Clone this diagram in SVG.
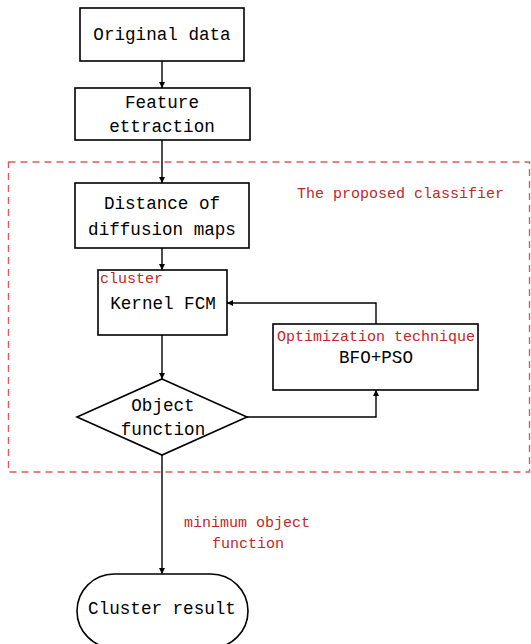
<svg xmlns="http://www.w3.org/2000/svg" width="531" height="644" viewBox="0 0 531 644">
<style>
.box{fill:#fff;stroke:#000;stroke-width:1.6}
.t{font-family:"Liberation Mono",monospace;font-size:17.6px;fill:#000;text-anchor:middle}
.r{font-family:"Liberation Mono",monospace;font-size:15px;fill:#c0282a}
.c{fill:none;stroke:#000;stroke-width:1.4}
</style>
<defs>
<marker id="ah" markerWidth="8" markerHeight="8" refX="6" refY="3" orient="auto" markerUnits="userSpaceOnUse">
<path d="M0,0 L6,3 L0,6 Z" fill="#000"/>
</marker>
</defs>
<rect x="0" y="0" width="531" height="644" fill="#fff"/>
<rect id="classifier" x="8.5" y="162" width="521" height="310" fill="none" stroke="#e05a5e" stroke-width="1.4" stroke-dasharray="7,5"/>
<text class="r" x="297" y="198">The proposed classifier</text>
<g id="connectors">
<line class="c" x1="162" y1="61" x2="162" y2="88" marker-end="url(#ah)"/>
<line class="c" x1="162" y1="140" x2="162" y2="183" marker-end="url(#ah)"/>
<line class="c" x1="162" y1="248" x2="162" y2="270" marker-end="url(#ah)"/>
<line class="c" x1="162" y1="335" x2="162" y2="379" marker-end="url(#ah)"/>
<polyline class="c" points="247,417 376,417 376,390" marker-end="url(#ah)"/>
<polyline class="c" points="376,324 376,303 227,303" marker-end="url(#ah)"/>
<line class="c" x1="162" y1="455" x2="162" y2="574" marker-end="url(#ah)"/>
<text class="r" x="184" y="527">minimum object</text>
<text class="r" x="212" y="548">function</text>
</g>
<g id="original">
<rect class="box" x="80" y="8" width="164" height="53"/>
<text class="t" x="162" y="40">Original data</text>
</g>
<g id="feature">
<rect class="box" x="75" y="88" width="175" height="52"/>
<text class="t" x="162" y="108">Feature</text>
<text class="t" x="162" y="132">ettraction</text>
</g>
<g id="distance">
<rect class="box" x="75" y="183" width="174" height="65"/>
<text class="t" x="162" y="209">Distance of</text>
<text class="t" x="162" y="235">diffusion maps</text>
</g>
<g id="kfcm">
<rect class="box" x="98" y="270" width="129" height="65"/>
<text class="r" x="100" y="283">cluster</text>
<text class="t" x="163" y="309">Kernel FCM</text>
</g>
<g id="opt">
<rect class="box" x="273" y="324" width="205" height="66"/>
<text class="r" x="277" y="341">Optimization technique</text>
<text class="t" x="376" y="363">BFO+PSO</text>
</g>
<g id="objective">
<polygon class="box" points="162,379 247,417 162,455 77,417"/>
<text class="t" x="163" y="411">Object</text>
<text class="t" x="163" y="435">function</text>
</g>
<g id="result">
<rect class="box" x="77" y="574" width="171" height="74" rx="37" ry="37"/>
<text class="t" x="162" y="614">Cluster result</text>
</g>
</svg>
